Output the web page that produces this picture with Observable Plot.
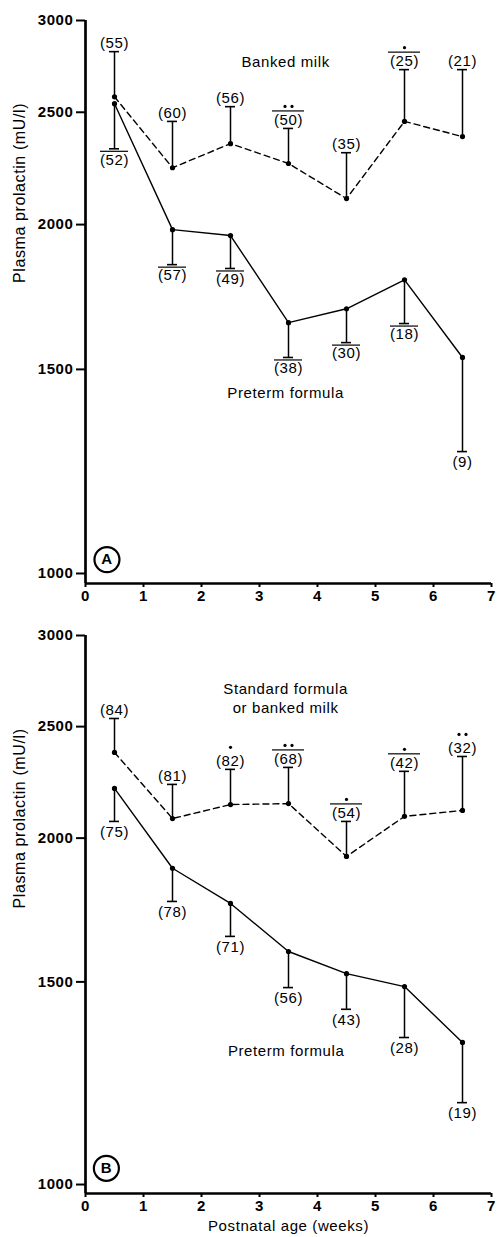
<!DOCTYPE html>
<html>
<head>
<meta charset="utf-8">
<script src="https://cdn.jsdelivr.net/npm/d3@7"></script>
<script src="https://cdn.jsdelivr.net/npm/@observablehq/plot@0.6"></script>
<style>
  html, body { margin: 0; padding: 0; background: #fff; }
  #chart { width: 497px; }
  #chart svg { display: block; }
</style>
</head>
<body>
<div id="chart"></div>
<script>
// ---------- shared axes ----------
const weeks = [0.5, 1.5, 2.5, 3.5, 4.5, 5.5, 6.5];
const xTicks = [0, 1, 2, 3, 4, 5, 6, 7];
const yTicks = [1000, 1500, 2000, 2500, 3000];
const yAxisTitle = "Plasma prolactin (mU/l)";
const xAxisTitle = "Postnatal age (weeks)";

// ---------- panel A ----------
const aUpperName = "Banked milk";
const aUpperMean = [2578, 2239, 2349, 2258, 2106, 2455, 2382];
const aUpperErr  = [2820, 2455, 2528, 2421, 2307, 2721, 2721];
const aUpperN    = [55, 60, 56, 50, 35, 25, 21];
const aUpperSig  = [0, 0, 0, 2, 0, 1, 0];
const aUpperBar  = [false, false, false, true, false, true, false];
const aLowerName = "Preterm formula";
const aLowerMean = [2543, 1980, 1957, 1646, 1692, 1792, 1536];
const aLowerErr  = [2325, 1847, 1833, 1536, 1582, 1643, 1274];
const aLowerN    = [52, 57, 49, 38, 30, 18, 9];
const aLowerBar  = [true, true, true, true, true, true, false];

// ---------- panel B ----------
const bUpperName = "Standard formula\nor banked milk";
const bUpperMean = [2374, 2080, 2139, 2143, 1928, 2089, 2114];
const bUpperErr  = [2541, 2227, 2295, 2304, 2068, 2286, 2355];
const bUpperN    = [84, 81, 82, 68, 54, 42, 32];
const bUpperSig  = [0, 0, 1, 2, 1, 1, 2];
const bUpperBar  = [false, false, false, true, true, true, false];
const bLowerName = "Preterm formula";
const bLowerMean = [2209, 1883, 1755, 1594, 1525, 1486, 1329];
const bLowerErr  = [2068, 1762, 1643, 1483, 1420, 1342, 1178];
const bLowerN    = [75, 78, 71, 56, 43, 28, 19];
const bLowerBar  = [false, false, false, false, false, false, false];

const FONT = "'Liberation Sans', Arial, Helvetica, sans-serif";

function rows(mean, err, n, sig, bar) {
  return weeks.map((w, i) => ({week: w, mean: mean[i], err: err[i], n: n[i], sig: sig ? sig[i] : 0, bar: bar[i]}));
}

function panel(cfg) {
  const up = rows(cfg.upMean, cfg.upErr, cfg.upN, cfg.upSig, cfg.upBar);
  const lo = rows(cfg.loMean, cfg.loErr, cfg.loN, null, cfg.loBar);
  const marks = [
    // axis lines
    Plot.ruleX([0], {strokeWidth: 2.7}),
    Plot.ruleY([cfg.yFloor], {strokeWidth: 2.4}),
    Plot.axisY({ticks: yTicks, tickSize: 9, tickPadding: 3, strokeWidth: 2, tickFormat: d => String(d), fontWeight: "bold", fontSize: 15, label: null}),
    Plot.axisX({ticks: xTicks, tickSize: 4, tickPadding: 3, strokeWidth: 2, tickFormat: d => String(d), fontWeight: "bold", fontSize: 15, label: null}),
    // y axis title
    Plot.text([yAxisTitle], {text: d => d, frameAnchor: "left", rotate: -90, dx: -66, dy: cfg.titleDy, fontSize: 16}),
    // series lines
    Plot.line(up, {x: "week", y: "mean", stroke: "black", strokeWidth: 1.4, strokeDasharray: "6,4"}),
    Plot.line(lo, {x: "week", y: "mean", stroke: "black", strokeWidth: 1.4}),
    // error bars
    Plot.ruleX(up, {x: "week", y1: "mean", y2: "err", strokeWidth: 1.5}),
    Plot.ruleX(lo, {x: "week", y1: "mean", y2: "err", strokeWidth: 1.5}),
    Plot.ruleY(up, {y: "err", x1: "week", x2: "week", insetLeft: -5, insetRight: -5, strokeWidth: 1.6}),
    Plot.ruleY(lo, {y: "err", x1: "week", x2: "week", insetLeft: -5, insetRight: -5, strokeWidth: 1.6}),
    // points
    Plot.dot([...up, ...lo], {x: "week", y: "mean", r: 2.6, fill: "black"}),
    // n labels
    Plot.text(up, {x: "week", y: "err", text: d => `(${d.n})`, dy: -8.5, fontSize: 15}),
    Plot.text(lo, {x: "week", y: "err", text: d => `(${d.n})`, dy: 11, fontSize: 15}),
    // overlines
    Plot.ruleY(up.filter(d => d.bar), {y: "err", x1: "week", x2: "week", insetLeft: -16, insetRight: -16, dy: -17.5, strokeWidth: 1.2}),
    Plot.ruleY(lo.filter(d => d.bar), {y: "err", x1: "week", x2: "week", insetLeft: -14, insetRight: -14, dy: 2.5, strokeWidth: 1.2}),
    // significance dots
    Plot.dot(up.filter(d => d.sig === 1), {x: "week", y: "err", dy: -22, r: 1.6, fill: "black"}),
    Plot.dot(up.filter(d => d.sig === 2), {x: "week", y: "err", dy: -22, dx: -3.5, r: 1.6, fill: "black"}),
    Plot.dot(up.filter(d => d.sig === 2), {x: "week", y: "err", dy: -22, dx: 3.5, r: 1.6, fill: "black"}),
    // series names
    Plot.text([cfg.upName], {x: cfg.upNamePos[0], y: cfg.upNamePos[1], text: d => d, fontSize: 15, lineHeight: 1.27}),
    Plot.text([cfg.loName], {x: cfg.loNamePos[0], y: cfg.loNamePos[1], text: d => d, fontSize: 15}),
    // panel letter
    Plot.dot([cfg.letter], {x: cfg.letterPos[0], y: cfg.letterPos[1], r: 12.5, stroke: "black", strokeWidth: 2.2, fill: "white"}),
    Plot.text([cfg.letter], {x: cfg.letterPos[0], y: cfg.letterPos[1], text: d => d, fontWeight: "bold", fontSize: 15})
  ];
  if (cfg.xTitle) {
    marks.push(Plot.text([cfg.xTitle], {text: d => d, frameAnchor: "bottom", dy: 37, fontSize: 15}));
  }
  return Plot.plot({
    width: 497,
    height: cfg.height,
    marginLeft: 85,
    marginRight: 6,
    marginTop: cfg.marginTop,
    marginBottom: cfg.marginBottom,
    style: {fontFamily: FONT, fontSize: "15px", color: "black", background: "white", letterSpacing: "0.6px", overflow: "visible"},
    x: {domain: [0, 7]},
    y: {type: "log", domain: [cfg.yFloor, 3000]},
    marks
  });
}

const chart = document.getElementById("chart");
chart.append(panel({
  height: 610, marginTop: 20, marginBottom: 27, yFloor: 980.3, titleDy: -19,
  upMean: aUpperMean, upErr: aUpperErr, upN: aUpperN, upSig: aUpperSig, upBar: aUpperBar,
  loMean: aLowerMean, loErr: aLowerErr, loN: aLowerN, loBar: aLowerBar,
  upName: aUpperName, upNamePos: [3.45, 2766],
  loName: aLowerName, loNamePos: [3.45, 1430],
  letter: "A", letterPos: [0.37, 1028]
}));
chart.append(panel({
  height: 627, marginTop: 25, marginBottom: 44, yFloor: 982.2, titleDy: -6,
  upMean: bUpperMean, upErr: bUpperErr, upN: bUpperN, upSig: bUpperSig, upBar: bUpperBar,
  loMean: bLowerMean, loErr: bLowerErr, loN: bLowerN, loBar: bLowerBar,
  upName: bUpperName, upNamePos: [3.45, 2648],
  loName: bLowerName, loNamePos: [3.46, 1305],
  letter: "B", letterPos: [0.36, 1033],
  xTitle: xAxisTitle
}));
</script>
</body>
</html>
